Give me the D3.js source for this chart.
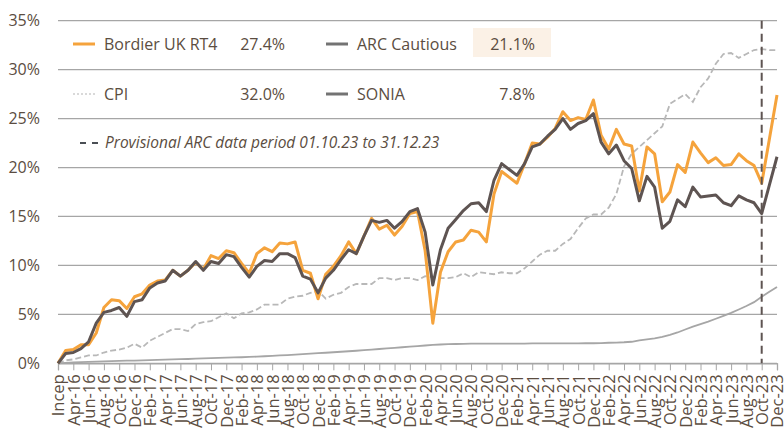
<!DOCTYPE html>
<html>
<head>
<meta charset="utf-8">
<script src="https://d3js.org/d3.v7.min.js"></script>
<style>
  body { margin: 0; background: #fff; }
  text { font-family: "Open Sans", sans-serif; fill: #5b4d41; }
</style>
</head>
<body>
<script>
// x tick labels (every second month, Incep = Feb-16)
const tickLabels = ["Incep",
  "Apr-16","Jun-16","Aug-16","Oct-16","Dec-16",
  "Feb-17","Apr-17","Jun-17","Aug-17","Oct-17","Dec-17",
  "Feb-18","Apr-18","Jun-18","Aug-18","Oct-18","Dec-18",
  "Feb-19","Apr-19","Jun-19","Aug-19","Oct-19","Dec-19",
  "Feb-20","Apr-20","Jun-20","Aug-20","Oct-20","Dec-20",
  "Feb-21","Apr-21","Jun-21","Aug-21","Oct-21","Dec-21",
  "Feb-22","Apr-22","Jun-22","Aug-22","Oct-22","Dec-22",
  "Feb-23","Apr-23","Jun-23","Aug-23","Oct-23","Dec-23"];

// monthly cumulative returns (%), Incep .. Dec-23
const bordier = [0,1.3,1.4,1.9,1.9,3.1,5.7,6.5,6.4,5.6,
  6.8,7.1,8.0,8.4,8.5,9.5,8.9,9.5,10.3,9.6,
  11.0,10.7,11.5,11.3,10.2,9.2,11.2,11.8,11.4,12.3,
  12.2,12.4,9.5,9.2,6.6,9.1,9.9,11.0,12.4,11.2,
  13.0,14.8,13.7,14.1,13.1,14.0,15.3,15.5,11.5,4.1,
  9.3,11.4,12.4,12.6,13.6,13.4,12.4,17.3,19.6,19.0,
  18.4,20.4,22.5,22.4,23.1,24.0,25.7,24.8,25.1,24.9,
  26.9,23.3,21.9,23.9,22.4,22.2,17.6,22.1,21.4,16.5,
  17.5,20.3,19.5,22.6,21.5,20.5,21.0,20.2,20.3,21.4,
  20.7,20.2,18.4,22.9,27.4];

const arcCautious = [0,1.0,1.1,1.5,2.2,4.1,5.2,5.4,5.7,4.8,
  6.3,6.5,7.7,8.2,8.4,9.5,8.9,9.5,10.4,9.5,
  10.4,10.2,11.1,10.9,9.8,8.8,9.9,10.5,10.4,11.2,
  11.2,10.8,8.9,8.6,7.2,8.7,9.5,10.6,11.6,11.2,
  13.0,14.6,14.4,14.6,13.8,14.5,15.5,15.8,13.4,8.0,
  11.6,13.8,14.7,15.6,16.3,16.4,15.5,18.7,20.4,19.8,
  19.2,20.4,22.1,22.4,23.2,23.9,25.0,23.9,24.5,24.8,
  25.5,22.6,21.4,22.3,20.7,19.9,16.6,19.1,18.0,13.8,
  14.5,16.7,16.0,18.0,17.0,17.1,17.2,16.4,16.1,17.1,
  16.7,16.4,15.3,18.2,21.1];

const cpi = [0,0.3,0.4,0.6,0.8,0.8,1.1,1.3,1.4,1.6,
  2.0,1.6,2.3,2.7,3.1,3.5,3.5,3.3,4.0,4.2,
  4.3,4.7,5.1,4.6,5.1,5.2,5.5,6.0,6.0,6.0,
  6.6,6.8,6.9,7.2,7.4,6.6,7.0,7.2,7.8,8.1,
  8.1,8.1,8.7,8.7,8.5,8.7,8.7,8.5,8.9,8.8,
  8.7,8.7,8.8,9.2,8.8,9.3,9.2,9.1,9.3,9.2,
  9.2,9.7,10.4,11.1,11.5,11.5,12.2,12.7,13.8,14.8,
  15.2,15.2,15.9,17.3,20.1,21.4,22.1,22.8,23.5,24.2,
  26.5,27.0,27.5,26.7,28.2,29.1,30.6,31.6,31.7,31.2,
  31.6,32.0,32.1,32.0,32.0];

const sonia = [0,0.04,0.08,0.12,0.15,0.17,0.2,0.23,0.25,0.27,
  0.28,0.3,0.32,0.35,0.37,0.4,0.42,0.44,0.47,0.5,
  0.52,0.55,0.57,0.6,0.62,0.65,0.68,0.72,0.76,0.8,
  0.84,0.88,0.93,0.98,1.03,1.08,1.13,1.18,1.23,1.28,
  1.34,1.4,1.46,1.52,1.58,1.64,1.7,1.76,1.82,1.88,
  1.92,1.95,1.97,1.99,2.0,2.0,2.0,2.01,2.01,2.02,
  2.02,2.02,2.03,2.03,2.03,2.03,2.04,2.04,2.04,2.05,
  2.05,2.07,2.1,2.12,2.15,2.2,2.35,2.45,2.55,2.7,
  2.9,3.15,3.45,3.75,4.0,4.25,4.55,4.85,5.15,5.5,
  5.85,6.25,6.8,7.3,7.8];

const yTicks = [0,5,10,15,20,25,30,35];
const provisionalStart = 92; // Oct-23

const width = 784, height = 430;
const svg = d3.select("body").append("svg")
  .attr("width", width)
  .attr("height", height);

const x = d3.scaleLinear().domain([0, bordier.length - 1]).range([58, 777]);
const y = d3.scaleLinear().domain([0, 35]).range([363.3, 20.7]);

// grid lines
svg.selectAll("line.grid")
  .data(yTicks)
  .enter().append("line")
  .attr("class", "grid")
  .attr("x1", x(0)).attr("x2", x(94))
  .attr("y1", d => y(d)).attr("y2", d => y(d))
  .attr("stroke", "#a6a6a6")
  .attr("stroke-width", 1.3);

// y labels
svg.selectAll("text.ylab")
  .data(yTicks)
  .enter().append("text")
  .attr("class", "ylab")
  .attr("x", 40)
  .attr("y", d => y(d))
  .attr("dy", "0.35em")
  .attr("text-anchor", "end")
  .style("font-size", "16px")
  .text(d => d + "%");

// x axis
const xAxis = svg.append("g")
  .attr("transform", `translate(0,${y(0)})`)
  .call(d3.axisBottom(x)
    .tickValues(d3.range(0, bordier.length, 2))
    .tickSize(7)
    .tickFormat((d, i) => tickLabels[i]));
xAxis.select(".domain").attr("stroke", "#a6a6a6").attr("stroke-width", 1.3);
xAxis.selectAll(".tick line").attr("stroke", "#a6a6a6");
xAxis.selectAll(".tick text")
  .attr("transform", "rotate(-90)")
  .attr("x", -11)
  .attr("y", 0)
  .attr("dy", "0.36em")
  .attr("text-anchor", "end")
  .style("font-size", "16.5px")
  .style("font-family", "'Open Sans', sans-serif")
  .attr("fill", "#5b4d41");

const line = d3.line()
  .x((d, i) => x(i))
  .y(d => y(d));

svg.append("path").datum(cpi)
  .attr("d", line).attr("fill", "none")
  .attr("stroke", "#b8b8b8").attr("stroke-width", 1.8)
  .attr("stroke-dasharray", "6,3");

svg.append("path").datum(sonia)
  .attr("d", line).attr("fill", "none")
  .attr("stroke", "#a6a6a6").attr("stroke-width", 1.8);

svg.append("path").datum(bordier)
  .attr("d", line).attr("fill", "none")
  .attr("stroke", "#f5a33c").attr("stroke-width", 3)
  .attr("stroke-linejoin", "round");

svg.append("path").datum(arcCautious)
  .attr("d", line).attr("fill", "none")
  .attr("stroke", "#5e5452").attr("stroke-width", 3)
  .attr("stroke-linejoin", "round");

// provisional period marker
svg.append("line")
  .attr("x1", x(provisionalStart)).attr("x2", x(provisionalStart))
  .attr("y1", y(35)).attr("y2", y(0))
  .attr("stroke", "#5e5452").attr("stroke-width", 2)
  .attr("stroke-dasharray", "8,5");

// legend
svg.append("rect")
  .attr("x", 473).attr("y", 28).attr("width", 78).attr("height", 29)
  .attr("fill", "#fbf1e6");

const legend = [
  { name: "Bordier UK RT4", value: "27.4%", lx: 73, tx: 104, vx: 285, row: 0, color: "#f5a33c", w: 3, dash: null },
  { name: "ARC Cautious", value: "21.1%", lx: 326, tx: 357, vx: 535, row: 0, color: "#737373", w: 3, dash: null },
  { name: "CPI", value: "32.0%", lx: 73, tx: 104, vx: 285, row: 1, color: "#d9d9d9", w: 2, dash: "2,2" },
  { name: "SONIA", value: "7.8%", lx: 326, tx: 357, vx: 535, row: 1, color: "#737373", w: 3, dash: null }
];
const rowY = [44, 94];

const lg = svg.selectAll("g.leg")
  .data(legend)
  .enter().append("g")
  .attr("class", "leg");
lg.append("line")
  .attr("x1", d => d.lx).attr("x2", d => d.lx + 22)
  .attr("y1", d => rowY[d.row]).attr("y2", d => rowY[d.row])
  .attr("stroke", d => d.color).attr("stroke-width", d => d.w)
  .attr("stroke-dasharray", d => d.dash);
lg.append("text")
  .attr("x", d => d.tx).attr("y", d => rowY[d.row])
  .attr("dy", "0.35em")
  .style("font-size", "16px")
  .text(d => d.name);
lg.append("text")
  .attr("x", d => d.vx).attr("y", d => rowY[d.row])
  .attr("dy", "0.35em")
  .attr("text-anchor", "end")
  .style("font-size", "16px")
  .text(d => d.value);

svg.append("line")
  .attr("x1", 80).attr("x2", 98).attr("y1", 143).attr("y2", 143)
  .attr("stroke", "#4a4f55").attr("stroke-width", 2)
  .attr("stroke-dasharray", "6,6");
svg.append("text")
  .attr("x", 105).attr("y", 143)
  .attr("dy", "0.35em")
  .style("font-size", "15.5px")
  .style("font-style", "italic")
  .text("Provisional ARC data period 01.10.23 to 31.12.23");
</script>
</body>
</html>
